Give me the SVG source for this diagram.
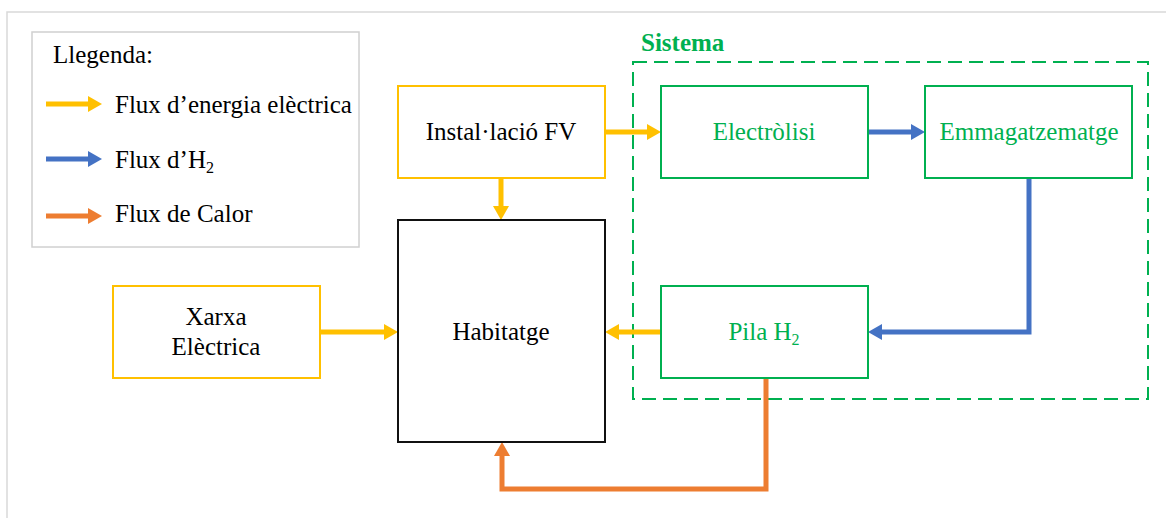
<svg xmlns="http://www.w3.org/2000/svg" width="1166" height="518" viewBox="0 0 1166 518">
<defs>
<style>
text{font-size:25px;fill:#000}
.c{text-anchor:middle}
.g{fill:#00B050}
.box{fill:#fff;stroke-width:2}
.y{stroke:#FFC000}
.gr{stroke:#00B050}
.bk{stroke:#111}
.ln{fill:none;stroke-width:5}
</style>
<marker id="ay" markerUnits="userSpaceOnUse" markerWidth="14" markerHeight="16" refX="2" refY="8" orient="auto"><path d="M0,0 L14,8 L0,16 z" fill="#FFC000"/></marker>
<marker id="ab" markerUnits="userSpaceOnUse" markerWidth="14" markerHeight="16" refX="2" refY="8" orient="auto"><path d="M0,0 L14,8 L0,16 z" fill="#4472C4"/></marker>
<marker id="ao" markerUnits="userSpaceOnUse" markerWidth="14" markerHeight="16" refX="2" refY="8" orient="auto"><path d="M0,0 L14,8 L0,16 z" fill="#ED7D31"/></marker>
</defs>
<rect x="0" y="0" width="1166" height="518" fill="#fff"/>
<rect x="7" y="12" width="1175" height="520" fill="none" stroke="#d9d9d9" stroke-width="1.5"/>

<g font-family="Liberation Serif, serif">
<g id="legend">
<rect x="32" y="32" width="327" height="215" fill="#fff" stroke="#d0d0d0" stroke-width="1.5"/>
<text x="53" y="63">Llegenda:</text>
<line x1="46" y1="104" x2="90" y2="104" class="ln" stroke="#FFC000" marker-end="url(#ay)"/>
<text x="115" y="113">Flux d’energia elèctrica</text>
<line x1="46" y1="159" x2="90" y2="159" class="ln" stroke="#4472C4" marker-end="url(#ab)"/>
<text x="115" y="168">Flux d’H<tspan font-size="16" dy="5">2</tspan></text>
<line x1="46" y1="216" x2="90" y2="216" class="ln" stroke="#ED7D31" marker-end="url(#ao)"/>
<text x="115" y="222">Flux de Calor</text>
</g>

<g id="sistema">
<rect x="633" y="62" width="515" height="337" fill="none" stroke="#00B050" stroke-width="2" stroke-dasharray="14,7"/>
<text x="641" y="51" class="g" font-weight="bold" font-size="24">Sistema</text>
</g>

<g id="connectors">
<line x1="606" y1="132" x2="649" y2="132" class="ln" stroke="#FFC000" marker-end="url(#ay)"/>
<line x1="501" y1="178" x2="501" y2="208" class="ln" stroke="#FFC000" marker-end="url(#ay)"/>
<line x1="320" y1="332" x2="386" y2="332" class="ln" stroke="#FFC000" marker-end="url(#ay)"/>
<line x1="661" y1="332" x2="617" y2="332" class="ln" stroke="#FFC000" marker-end="url(#ay)"/>
<line x1="868" y1="132" x2="913" y2="132" class="ln" stroke="#4472C4" marker-end="url(#ab)"/>
<path d="M1029,178 V332 H880" class="ln" stroke="#4472C4" marker-end="url(#ab)"/>
<path d="M766,378 V489 H502 V454" class="ln" stroke="#ED7D31" marker-end="url(#ao)"/>
</g>

<g id="fv">
<rect x="398" y="86" width="207" height="92" class="box y"/>
<text x="501" y="140" class="c">Instal·lació FV</text>
</g>
<g id="habitatge">
<rect x="398" y="220" width="207" height="222" class="box bk"/>
<text x="501" y="340" class="c">Habitatge</text>
</g>
<g id="xarxa">
<rect x="113" y="286" width="207" height="92" class="box y"/>
<text x="216" y="325" class="c">Xarxa</text>
<text x="216" y="355" class="c">Elèctrica</text>
</g>
<g id="electrolisi">
<rect x="661" y="86" width="207" height="92" class="box gr"/>
<text x="764" y="140" class="c g">Electròlisi</text>
</g>
<g id="emmagatzematge">
<rect x="925" y="86" width="207" height="92" class="box gr"/>
<text x="1029" y="140" class="c g">Emmagatzematge</text>
</g>
<g id="pila">
<rect x="661" y="286" width="207" height="92" class="box gr"/>
<text x="764" y="340" class="c g">Pila H<tspan font-size="16" dy="5">2</tspan></text>
</g>
</g>
</svg>
